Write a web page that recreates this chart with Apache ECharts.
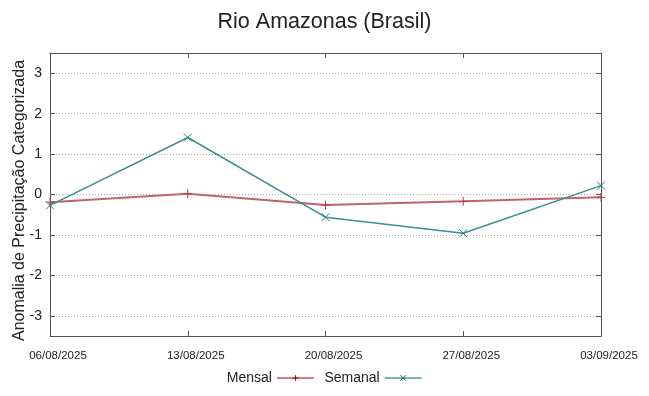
<!DOCTYPE html>
<html lang="pt">
<head>
  <meta charset="UTF-8">
  <title>Rio Amazonas (Brasil)</title>
  <script src="https://cdn.jsdelivr.net/npm/echarts@6/dist/echarts.min.js"></script>
  <style>
    html, body { margin: 0; padding: 0; background: #fff; }
    #chart { width: 649px; height: 396px; }
  </style>
</head>
<body>
  <div id="chart"></div>
  <script>
    // dados
    var dates = ['06/08/2025', '13/08/2025', '20/08/2025', '27/08/2025', '03/09/2025'];
    var mensal = [-0.19, 0.02, -0.26, -0.17, -0.07];
    var semanal = [-0.27, 1.41, -0.56, -0.96, 0.22];
    var yTicks = [-3, -2, -1, 0, 1, 2, 3];

    var font = 'Liberation Sans, Arial, sans-serif';
    var plus = 'path://M5,0L5,10M0,5L10,5';
    var cross = 'path://M0,0L10,10M10,0L0,10';
    var frame = { show: true, onZero: false, lineStyle: { color: '#555', width: 1 } };

    var myChart = echarts.init(document.getElementById('chart'));

    var option = {
      animation: false,
      textStyle: { fontFamily: font },
      title: {
        text: 'Rio Amazonas (Brasil)',
        left: 'center',
        top: 6,
        textStyle: { fontFamily: font, fontSize: 21.5, fontWeight: 'normal', color: '#222' }
      },
      grid: { left: 50, right: 48, top: 53, bottom: 60, outerBoundsMode: 'none', containLabel: false },
      legend: {
        bottom: 6,
        left: 'center',
        align: 'right',
        itemWidth: 37,
        itemHeight: 7,
        itemGap: 10,
        textStyle: { fontFamily: font, fontSize: 14, color: '#222' },
        data: [
          { name: 'Mensal', itemStyle: { color: '#a00000', borderColor: '#a00000', borderWidth: 1 }, lineStyle: { color: '#a00000', width: 1 } },
          { name: 'Semanal', itemStyle: { color: '#006060', borderColor: '#006060', borderWidth: 1 }, lineStyle: { color: '#006060', width: 1 } }
        ]
      },
      xAxis: [{
        type: 'category',
        data: dates,
        boundaryGap: false,
        axisLine: frame,
        axisTick: { show: true, inside: true, length: 5, lineStyle: { color: '#555' } },
        axisLabel: { fontFamily: font, fontSize: 11.5, color: '#222', margin: 14, interval: 0, padding: [0, 0, 0, 16] },
        splitLine: { show: false }
      }, {
        type: 'category',
        data: dates,
        position: 'top',
        boundaryGap: false,
        axisLine: frame,
        axisTick: { show: true, inside: true, length: 5, lineStyle: { color: '#555' } },
        axisLabel: { show: false },
        splitLine: { show: false }
      }],
      yAxis: [{
        type: 'value',
        min: -3.5,
        max: 3.5,
        name: 'Anomalia de Precipitação Categorizada',
        nameLocation: 'middle',
        nameGap: 22,
        nameMoveOverlap: false,
        nameTextStyle: { fontFamily: font, fontSize: 16, color: '#222', padding: [0, 12, 0, 0] },
        axisLine: frame,
        axisTick: { show: true, inside: true, length: 5, customValues: yTicks, lineStyle: { color: '#555' } },
        axisLabel: { fontFamily: font, fontSize: 14, color: '#222', margin: 8, customValues: yTicks },
        splitLine: { show: true, lineStyle: { color: '#aaa', type: [1, 2], width: 1 } }
      }, {
        type: 'value',
        min: -3.5,
        max: 3.5,
        position: 'right',
        axisLine: frame,
        axisTick: { show: true, inside: true, length: 5, customValues: yTicks, lineStyle: { color: '#555' } },
        axisLabel: { show: false },
        splitLine: { show: false }
      }],
      series: [{
        name: 'Mensal',
        type: 'line',
        data: mensal,
        symbol: plus,
        symbolSize: 9,
        color: '#c0646a',
        itemStyle: { color: '#b04048', borderColor: '#b04048', borderWidth: 1 },
        lineStyle: { color: '#c0646a', width: 2 }
      }, {
        name: 'Semanal',
        type: 'line',
        data: semanal,
        symbol: cross,
        symbolSize: 8,
        color: '#3a9090',
        itemStyle: { color: '#2a7a7a', borderColor: '#2a7a7a', borderWidth: 1 },
        lineStyle: { color: '#3a9090', width: 1.5 }
      }]
    };

    myChart.setOption(option);
  </script>
</body>
</html>
